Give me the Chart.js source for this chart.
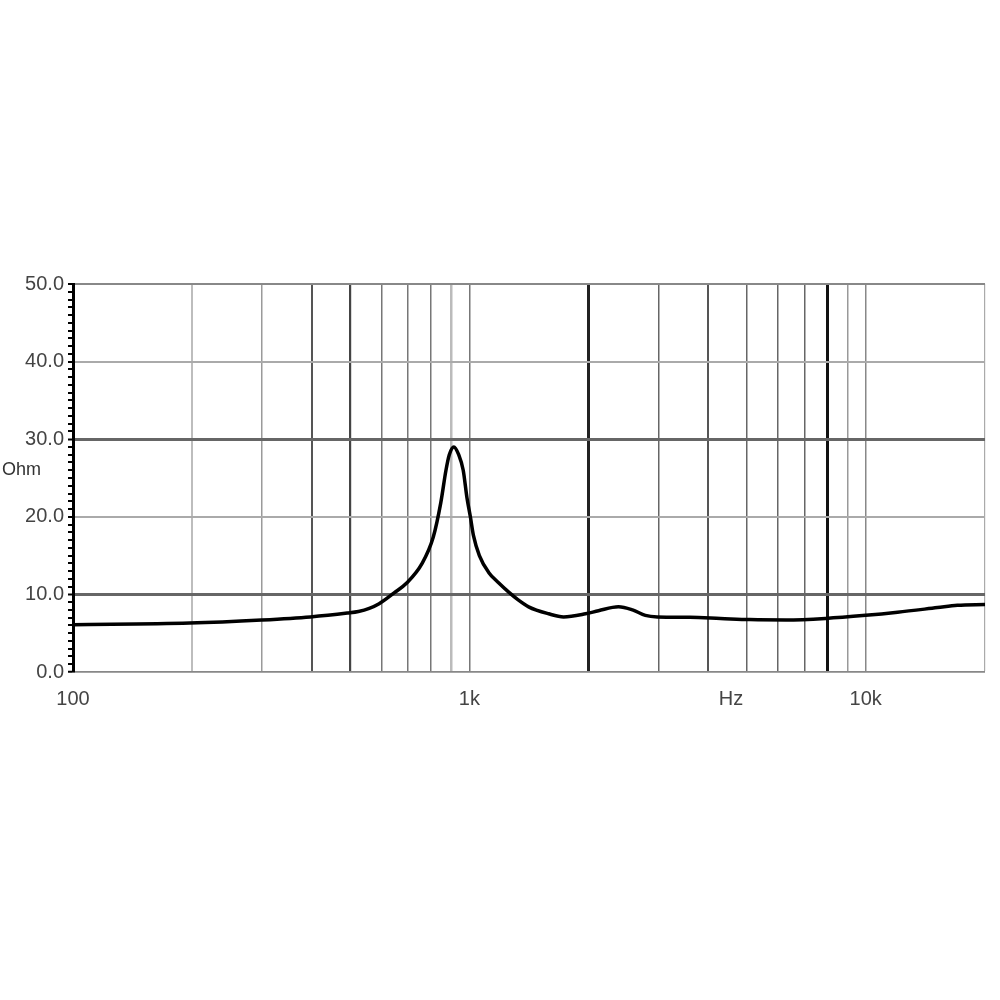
<!DOCTYPE html>
<html>
<head>
<meta charset="utf-8">
<script src="https://cdn.jsdelivr.net/npm/chart.js@4/dist/chart.umd.min.js"></script>
<style>
html,body{margin:0;padding:0;background:#fff;}
#wrap{width:1000px;height:1000px;}
</style>
</head>
<body>
<div id="wrap"><canvas id="c" width="1000" height="1000"></canvas></div>
<script>
// Data (impedance curve)
const freqs = [100,197,299,397,492,525,559,592,646,696,760,811,847,873,890,914,940,965,986,1006,1024,1060,1120,1185,1257,1328,1411,1585,1729,1964,2118,2378,2580,2780,2981,3600,4300,5100,6300,7931,10000,12035,15177,17035,20000];
const ohms  = [6.1,6.3,6.7,7.1,7.6,7.8,8.2,8.8,10.2,11.5,14.0,17.4,21.8,26.0,28.0,29.0,28.0,26.0,22.5,20.0,17.6,15.0,12.8,11.5,10.3,9.3,8.4,7.5,7.1,7.5,7.9,8.4,8.0,7.3,7.1,7.05,6.9,6.75,6.7,6.9,7.3,7.7,8.3,8.6,8.7];

// Axis ticks
const xTicks = [100,200,300,400,500,600,700,800,900,1000,2000,3000,4000,4575,5000,6000,7000,8000,9000,10000,20000];
const xTickLabels = {100:'100',1000:'1k',4575:'Hz',10000:'10k'};
const yMajor = [0,10,20,30,40,50];
const yUnit = 'Ohm';

// Gridline styles (reference shows uneven shading)
const vGridStyle = {
  100:['#000',0],200:['#bdbdbd',2],300:['#9a9a9a',1.5],400:['#555',2],500:['#444',2.2],
  600:['#777',1.5],700:['#777',1.5],800:['#777',1.5],900:['#bbb',2.5],1000:['#777',1.5],
  2000:['#222',3],3000:['#666',1.5],4000:['#555',2],4575:['rgba(0,0,0,0)',0],5000:['#666',1.5],
  6000:['#666',1.5],7000:['#666',1.5],8000:['#111',3],9000:['#999',1.5],10000:['#888',1.5],20000:['#aaa',1.2]
};
const hGridStyle = {0:['#888',1.5],10:['#666',3],20:['#aaa',2],30:['#666',3],40:['#aaa',2],50:['#888',2]};

const labelPlugin = {
  id:'unitLabel',
  afterDraw(chart){
    const ctx = chart.ctx;
    ctx.save();
    ctx.fillStyle = '#333';
    ctx.font = '18px "Liberation Sans", Arial, sans-serif';
    ctx.textAlign = 'left';
    ctx.textBaseline = 'middle';
    ctx.fillText(yUnit, 2, 470);
    ctx.restore();
  }
};

new Chart(document.getElementById('c'), {
  type:'line',
  data:{
    datasets:[{
      data: freqs.map((f,i)=>({x:f,y:ohms[i]})),
      borderColor:'#000',
      borderWidth:3.5,
      pointRadius:0,
      fill:false,
      cubicInterpolationMode:'monotone'
    }]
  },
  options:{
    responsive:false,
    animation:false,
    devicePixelRatio:1,
    layout:{padding:{top:284,right:12,left:0,bottom:0}},
    plugins:{legend:{display:false},tooltip:{enabled:false}},
    scales:{
      x:{
        type:'logarithmic',
        min:100,max:20000,
        afterBuildTicks(scale){ scale.ticks = xTicks.map(v=>({value:v})); },
        afterFit(scale){ scale.height = 328; },
        ticks:{
          autoSkip:false,maxRotation:0,minRotation:0,
          padding:15,
          color:'#444',
          font:{family:'"Liberation Sans", Arial, sans-serif',size:20},
          callback(v){ return xTickLabels[v] || ''; }
        },
        grid:{
          drawTicks:false,
          color(ctx){ const s=vGridStyle[ctx.tick && ctx.tick.value]; return s? s[0]:'rgba(0,0,0,0)'; },
          lineWidth(ctx){ const s=vGridStyle[ctx.tick && ctx.tick.value]; return s? s[1]:0; }
        },
        border:{display:true,color:'#888',width:1.5}
      },
      y:{
        min:0,max:50,
        afterBuildTicks(scale){ const t=[]; for(let v=0;v<=50;v++) t.push({value:v}); scale.ticks=t; },
        afterFit(scale){ scale.width = 73; },
        ticks:{
          autoSkip:false,
          padding:4,
          color:'#444',
          font:{family:'"Liberation Sans", Arial, sans-serif',size:20},
          callback(v){ return yMajor.includes(v) ? v.toFixed(1) : ''; }
        },
        grid:{
          drawTicks:true,
          tickLength:5,
          tickWidth:2,
          tickColor:'#000',
          color(ctx){ const s=hGridStyle[ctx.tick && ctx.tick.value]; return s? s[0]:'rgba(0,0,0,0)'; },
          lineWidth(ctx){ const s=hGridStyle[ctx.tick && ctx.tick.value]; return s? s[1]:0; }
        },
        border:{display:true,color:'#000',width:3}
      }
    }
  },
  plugins:[labelPlugin]
});
</script>
</body>
</html>
